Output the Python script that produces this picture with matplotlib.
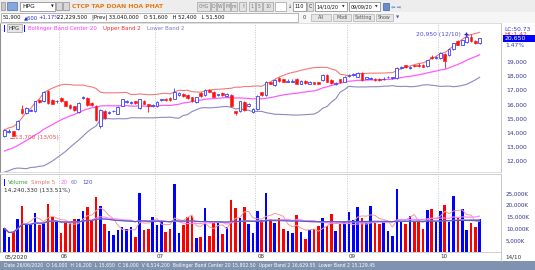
import numpy as np
import pandas as pd
import matplotlib
matplotlib.use("Agg")
import matplotlib.pyplot as plt
from matplotlib.patches import Rectangle
from matplotlib.transforms import ScaledTranslation

plt.rcParams['font.family'] = ['DejaVu Sans']

# ---------------- data ----------------
dates = [d for d in pd.bdate_range('2020-05-13', '2020-10-14') if d != pd.Timestamp('2020-09-02')]

open_ = [13800,14050,14100,14250,15650,15400,15550,15500,16300,16200,
         16950,16300,16200,16450,16200,15950,15850,15450,16450,16450,
         16100,15900,14450,15550,15400,15500,15350,15900,16150,16100,
         16200,15750,16250,16000,15900,15850,16300,16400,16450,16400,
         16650,16750,16650,16500,16150,16800,16650,17000,16900,16650,
         16800,16600,16650,15500,15500,16150,15850,15450,15650,16850,
         16650,17550,17350,17850,17750,17600,17600,17800,17450,17650,
         17450,17550,17550,17700,18050,17700,17400,17750,17600,18000,
         18050,17950,18200,17800,17800,17800,17800,17750,17900,17850,
         17850,18550,18750,18550,18750,18750,18750,18700,19350,19250,
         19250,19550,19450,19900,20450,20200,20400,20750,20450,20300]
high = [14250,14250,14150,14900,15950,15800,15700,16250,16400,16950,
        17000,16350,16300,16500,16250,16000,15900,16150,16600,16500,
        16150,15950,15650,15600,15550,15600,15850,16400,16300,16250,
        16250,16400,16300,16050,16050,16200,16400,16450,16500,17150,
        16850,16800,16700,16550,16550,16850,17050,17050,16950,16750,
        16850,16800,16700,15550,16250,16200,16100,15750,16650,16900,
        17650,17600,17750,17900,17800,17750,17750,17850,17700,17700,
        17650,17600,17600,18100,18100,17750,17550,17800,18000,18150,
        18200,18250,18250,17950,17950,17850,17850,17900,18000,17950,
        18600,18700,18800,18700,18800,18900,18850,19150,19450,19400,
        19650,19600,19950,20350,20500,20550,20800,20950,20500,20700]
low = [13700,14000,13750,14200,15300,15350,15500,15450,16100,16150,
       16050,16000,16100,16150,15850,15700,15550,15400,16400,15900,
       15900,14850,14350,15000,15350,15450,15300,15850,16100,16050,
       16050,15700,16000,15450,15800,15800,16250,16250,16250,16350,
       16600,16550,16400,16150,16100,16550,16600,16850,16500,16600,
       16600,16550,15800,15250,15450,15550,15800,15400,15600,16600,
       16600,17400,17300,17600,17550,17550,17550,17400,17400,17450,
       17400,17400,17400,17650,17550,17450,17350,17500,17550,17950,
       18000,17900,17650,17750,17750,17650,17650,17700,17850,17800,
       17800,18500,18550,18500,18650,18600,18600,18650,19200,19200,
       19200,18550,19400,19850,20150,20150,20350,20400,20250,20250]
close = [14200,14100,13800,14800,15400,15750,15600,16200,16150,16900,
         16100,16050,16250,16200,15900,15750,15600,16100,16550,15950,
         15950,14900,15600,15050,15450,15550,15800,16350,16200,16150,
         16100,16350,16050,15850,15950,16150,16350,16300,16300,16850,
         16800,16600,16450,16200,16500,16600,17000,16900,16550,16700,
         16650,16750,15850,15400,16200,15600,16050,15700,16600,16650,
         17600,17450,17700,17650,17600,17650,17650,17450,17650,17500,
         17550,17450,17450,18050,17600,17500,17500,17550,17950,18050,
         18100,18200,17700,17900,17850,17700,17700,17800,17950,17900,
         18550,18600,18600,18600,18700,18700,18650,19100,19250,19300,
         19600,19050,19900,20300,20200,20500,20750,20450,20300,20650]
# closes of the 19 sessions before the window (needed for the 20-day band)
pre_window_close = [11600,11750,11700,11900,12050,12000,12250,12450,12400,12650,
                    12800,12750,13000,13200,13150,13400,13600,13550,13800]
volume_k = [10100,6550,8700,13950,19650,11950,11600,16800,11600,12500,
            20500,15100,12600,8000,12250,12500,13950,13950,17650,19350,
            13650,23600,19650,11950,8950,7250,9400,10800,9700,10800,
            6550,25350,9400,9700,15100,11600,13350,8700,10000,29000,
            8000,11600,15100,15400,5850,6550,18650,6850,12250,12250,
            7700,10500,22200,18900,14650,19350,11800,8000,17500,13650,
            25000,13950,12500,14650,9800,8950,8000,15800,8700,5400,
            9400,9800,11100,14400,11000,16300,9000,11900,13000,17000,
            13500,19000,14500,12500,19800,12500,12000,12800,9000,7000,
            27000,12800,12000,15500,12800,12800,10000,17800,18500,13000,
            17500,20000,13000,24000,14500,18500,9500,12500,10670,14240]
price_ticks = [12000, 13000, 14000, 15000, 16000, 17000, 18000, 19000]
vol_ticks = [5000, 10000, 15000, 20000, 25000]

# ---------------- derived ----------------
o = np.array(open_, float); h = np.array(high, float)
l = np.array(low, float); c = np.array(close, float)
v = np.array(volume_k, float)
n = len(c)
x = np.arange(n)
allc = pd.Series(pre_window_close + close, dtype=float)
mid = allc.rolling(20).mean().values[-n:]
sd = allc.rolling(20).std(ddof=0).values[-n:]
upper = mid + 2 * sd
lower = mid - 2 * sd
vs = pd.Series(v)
ma5 = vs.rolling(5, min_periods=1).mean()
ma20 = vs.rolling(20, min_periods=1).mean()
ma60 = vs.rolling(60, min_periods=1).mean()
ma120 = vs.rolling(120, min_periods=1).mean()

months = [d.month for d in dates]
bpos = [-0.5] + [i - 0.5 for i in range(1, n) if months[i] != months[i - 1]]
blab = ['05/2020'] + ['%02d' % months[i] for i in range(1, n) if months[i] != months[i - 1]]

UP = '#3c3cff'
DN = '#ff1010'

# ---------------- figure ----------------
W, H = 535, 270
fig = plt.figure(figsize=(W / 100, H / 100), dpi=100)
fig.patch.set_facecolor('white')

def fx(px): return px / W
def fy(py): return 1 - py / H
def rect(x0, y0, x1, y1, fc, ec='none', lw=0.5, z=1):
    fig.add_artist(Rectangle((fx(x0), fy(y1)), (x1 - x0) / W, (y1 - y0) / H,
                             transform=fig.transFigure, facecolor=fc,
                             edgecolor=ec, linewidth=lw, zorder=z))
def ftxt(px, py, s, size=4.0, color='#222222', ha='left', z=5, **kw):
    fig.text(fx(px), fy(py), s, fontsize=size, color=color, ha=ha, va='center', zorder=z, **kw)

# toolbar row 1
rect(0, 0, 535, 12.5, '#ededed', z=0)
rect(0, 12.5, 535, 22.5, '#f6f6f6', z=0)
rect(1, 2.5, 5, 10, '#c8c8c8', '#909090')
rect(7, 2.5, 17, 10, '#86a6dc', '#5070a8')
rect(20, 2, 55, 11, 'white', '#808080')
ftxt(22.5, 6.6, 'HPG', 4.2, '#111111')
ftxt(51, 6.6, '▼', 2.6, '#222222')
rect(56, 2.5, 62, 10, '#d8d8d8', '#909090')
rect(63, 2.5, 69, 10, '#d8d8d8', '#909090')
ftxt(72, 6.6, 'CTCP TAP DOAN HOA PHAT', 4.4, '#e8780c', weight='bold')
for (a, b, s) in [(197, 210, 'CHG'), (211, 216, 'D'), (217, 223, 'W'), (224, 230, 'M'),
                  (231, 237, 'm'), (239, 246, '↑'), (249, 255, '1'), (256, 262, '5'),
                  (263, 273, '10')]:
    rect(a, 2.5, b, 10.5, '#e2e2e2', '#a0a0a0')
    ftxt((a + b) / 2, 6.6, s, 3.3, '#7a7a7a', ha='center')
rect(275, 2.5, 286, 10.5, 'white', '#a0a0a0')
ftxt(290, 6.6, '↓', 3.6, '#333333', ha='center')
rect(293, 2.5, 306, 10.5, 'white', '#808080')
ftxt(299.5, 6.6, '110', 3.6, '#111111', ha='center')
rect(307, 2.5, 313, 10.5, '#e2e2e2', '#a0a0a0')
ftxt(310, 6.6, 'C', 3.4, '#333333', ha='center')
rect(315, 2.5, 347, 10.5, 'white', '#808080')
ftxt(316.5, 6.6, '14/10/20', 3.5, '#111111')
ftxt(343, 6.6, '▼', 2.4, '#222222', ha='center')
rect(349, 2.5, 380, 10.5, 'white', '#808080')
ftxt(350.5, 6.6, '09/09/20', 3.5, '#111111')
ftxt(376, 6.6, '▼', 2.4, '#222222', ha='center')
rect(383, 3, 389, 10, '#6b8cc8', '#40609a')
ftxt(393, 6.6, '⇦', 3.8, '#2060c0', ha='center')
ftxt(399, 6.6, '⇨', 3.8, '#2060c0', ha='center')

# toolbar row 2
rect(0.5, 13.5, 298, 21.5, 'white', '#9a9a9a')
ftxt(3, 17.5, '51,900', 3.8, '#111111')
ftxt(24, 17.5, '▲600', 3.8, '#2a2ae0')
ftxt(38, 17.5, '+1.17%', 3.8, '#2a2ae0')
ftxt(57, 17.5, '22,229,500   |Prev| 33,040,000   O 51,600   H 52,400   L 51,500', 3.8, '#111111')
ftxt(303, 17.5, '0', 3.6, '#333333')
for (a, b, s) in [(311, 331, 'All'), (333, 351, 'Modi'), (353, 374, 'Setting'), (376, 393, 'Show')]:
    rect(a, 14, b, 21, '#e6e6e6', '#b0b0b0')
    ftxt((a + b) / 2, 17.5, s, 3.4, '#555555', ha='center')
ftxt(398, 17.5, '▼', 3.0, '#4060a0', ha='center')

# ---------------- price pane ----------------
ax = fig.add_axes([0, fy(172), fx(501), (172 - 23) / H])
ax.set_facecolor('white')
ax.set_xlim(-1.03, 113.9)
ax.set_ylim(11235, 21725)
for p in bpos[1:]:
    ax.axvline(p, ls=(0, (1.2, 2.0)), color='#b4b4b4', lw=0.55, zorder=0)
ax.plot(x, upper, color='#f07a7a', lw=0.8, zorder=1.5)
ax.plot(x, mid, color='#ff5cff', lw=0.9, zorder=1.5)
ax.plot(x, lower, color='#8a8abf', lw=0.8, zorder=1.5)
up = c >= o
dn = ~up
ax.vlines(x[up], l[up], h[up], color=UP, lw=0.6, zorder=2)
ax.vlines(x[dn], l[dn], h[dn], color=DN, lw=0.6, zorder=2)
body = np.maximum(np.abs(c - o), 25)
ax.bar(x[up], body[up], bottom=o[up], width=0.62, facecolor='white', edgecolor=UP, linewidth=0.6, zorder=3)
ax.bar(x[dn], body[dn], bottom=c[dn], width=0.62, facecolor=DN, edgecolor=DN, linewidth=0.4, zorder=3)
# extreme labels
ilo = int(np.argmin(l)); ihi = int(np.argmax(h))
ax.text(ilo + 2.3, l[ilo] - 60, '%s (%s)' % (format(int(l[ilo]), ','), '13/05'),
        fontsize=4.2, color='#e85050', ha='left', va='center', zorder=4)
ax.plot([ilo + 1.2, ilo + 2.1], [l[ilo] - 60, l[ilo] - 60], color='#e85050', lw=0.6, zorder=4)
ax.text(ihi - 2.4, h[ihi], '%s (%s)' % (format(int(h[ihi]), ','), dates[ihi].strftime('%d/%m')),
        fontsize=4.3, color='#4a4ae0', ha='right', va='center', zorder=4)
ax.plot(ihi - 1.2, h[ihi], marker='+', color='#2020d0', ms=3.5, mew=0.9, zorder=4)
ax.set_xticks([])
ax.yaxis.tick_right()
ax.set_yticks(price_ticks)
ax.set_yticklabels([format(t, ',') for t in price_ticks])
ax.tick_params(axis='y', length=0, pad=3.5, labelsize=4.3, labelcolor='#34348a')
for s in ['top', 'bottom']:
    ax.spines[s].set_color('#d0d0d0'); ax.spines[s].set_linewidth(0.5)
ax.spines['right'].set_color('#c0c0c0'); ax.spines['right'].set_linewidth(0.6)
ax.spines['left'].set_color('#909090'); ax.spines['left'].set_linewidth(0.8)

# price legend
rect(3.5, 25, 5, 31.5, '#1010ff', z=6)
rect(7, 24.5, 22, 31.8, '#e6e6e6', '#a0a0a0', z=6)
ftxt(8.5, 28.3, 'HPG', 3.8, '#333333', z=7)
rect(23.5, 25, 25, 31.5, '#1010ff', z=6)
ftxt(28, 28.3, 'Bollinger Band Center 20', 4.0, '#ff38ff', z=7)
ftxt(103, 28.3, 'Upper Band 2', 4.0, '#ff2828', z=7)
ftxt(147, 28.3, 'Lower Band 2', 4.0, '#7a7ac8', z=7)

# right axis badges
ftxt(504, 29.5, 'LC:50.73', 4.2, '#3a3ad8')
ftxt(504, 34.0, 'HL:1.42', 4.2, '#e03030')
rect(502.5, 35.5, 535, 41.8, '#0000ff', z=6)
ftxt(505, 38.7, format(int(c[-1]), ','), 4.4, 'white', z=7)
ftxt(505, 45.5, '1.47%', 4.3, '#3a3ad8')

# ---------------- volume pane ----------------
axv = fig.add_axes([0, fy(252), fx(501), (252 - 174) / H])
axv.set_facecolor('white')
axv.set_xlim(-1.03, 113.9)
axv.set_ylim(0, 33300)
for p in bpos[1:]:
    axv.axvline(p, ls=(0, (1.2, 2.0)), color='#b4b4b4', lw=0.55, zorder=0)
vcol = np.where(up, '#0000ff', '#ff0000')
axv.bar(x, v, width=0.6, color=vcol, zorder=2)
axv.plot(x, ma5, color='#f49a9a', lw=0.7, zorder=3)
axv.plot(x, ma20, color='#ff80ff', lw=0.8, zorder=3)
axv.plot(x, ma60, color='#9494d4', lw=0.8, zorder=3)
axv.plot(x, ma120, color='#5a5ac8', lw=0.8, zorder=3)
axv.yaxis.tick_right()
axv.set_yticks(vol_ticks)
axv.set_yticklabels([format(t, ',') + 'K' for t in vol_ticks])
axv.tick_params(axis='y', length=0, pad=3.5, labelsize=4.1, labelcolor='#34348a')
axv.set_xticks(bpos)
axv.set_xticklabels(blab, ha='left')
axv.tick_params(axis='x', length=0, pad=1.8, labelsize=4.1, labelcolor='#333333')
for lbl in axv.get_xticklabels():
    lbl.set_transform(lbl.get_transform() + ScaledTranslation(2.0 / 100, 0, fig.dpi_scale_trans))
for s in ['top', 'bottom']:
    axv.spines[s].set_color('#c8c8c8'); axv.spines[s].set_linewidth(0.6)
axv.spines['right'].set_color('#c0c0c0'); axv.spines['right'].set_linewidth(0.6)
axv.spines['left'].set_color('#909090'); axv.spines['left'].set_linewidth(0.8)

rect(3.5, 179, 5, 185.5, '#1010ff', z=6)
ftxt(8, 182.3, 'Volume', 4.0, '#3c9c3c')
ftxt(31, 182.3, 'Simple 5', 4.0, '#f07070')
ftxt(61, 182.3, '20', 4.0, '#ff5cff')
ftxt(71, 182.3, '60', 4.0, '#7a7ac8')
ftxt(82, 182.3, '120', 4.0, '#4848c0')
ftxt(4, 190.5, '%s (133.51%%)' % format(int(round(v[-1] * 1000 + 330)), ','), 4.2, '#333333')

# x-axis row extras
fig.add_artist(plt.Line2D([fx(501), fx(501)], [fy(252), fy(261)], transform=fig.transFigure, color='#c0c0c0', lw=0.6))
ftxt(505, 257, dates[-1].strftime('%d/%m'), 4.1, '#333333')

# status bar
rect(0, 261, 535, 270, '#7f92b0', z=0)
ftxt(4, 265.6, 'Date 26/06/2020  O 16,000  H 16,200  L 15,650  C 16,000  V 6,514,200  '
     'Bollinger Band Center 20 15,802.50  Upper Band 2 16,629.55  Lower Band 2 15,129.45',
     3.3, 'white')

fig.savefig('out.png', dpi=100, facecolor='white')
